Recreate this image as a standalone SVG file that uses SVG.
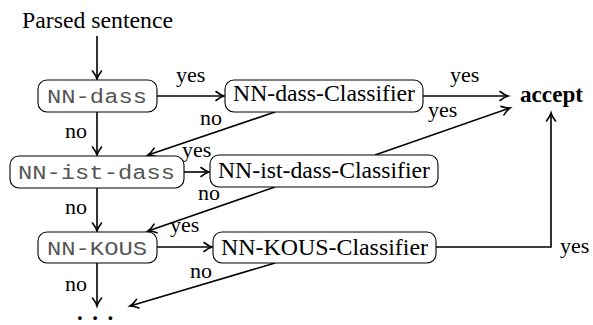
<svg xmlns="http://www.w3.org/2000/svg" width="593" height="325" viewBox="0 0 593 325">
<style>
.box{fill:#fff;stroke:#000;stroke-width:1.1}
.mono{font-family:"Liberation Mono","DejaVu Sans Mono",monospace;font-size:20px;fill:#555}
.serif{font-family:"Liberation Serif","Times New Roman",serif;font-size:23px;fill:#000}
.lbl{font-family:"Liberation Serif","Times New Roman",serif;font-size:22px;fill:#000}
.bold{font-weight:bold}
.edge{fill:none;stroke:#000;stroke-width:1.6;marker-end:url(#ah)}
</style>
<defs>
<marker id="ah" markerUnits="userSpaceOnUse" markerWidth="14" markerHeight="14" refX="11" refY="7" orient="auto" viewBox="0 0 14 14">
<path d="M3,2.5 Q7.5,6 11,7 Q7.5,8 3,11.5" fill="none" stroke="#000" stroke-width="1.6" stroke-linecap="round"/>
</marker>
</defs>

<text class="serif" x="22" y="28" textLength="151" lengthAdjust="spacingAndGlyphs">Parsed sentence</text>

<g id="edges">
<path class="edge" d="M97,36 L97,79"/>
<path class="edge" d="M157,96 L224,96"/>
<path class="edge" d="M97,112 L97,155"/>
<path class="edge" d="M275,112 L148,155"/>
<path class="edge" d="M423,96 L508,96"/>
<path class="edge" d="M375,155 L510,108"/>
<path class="edge" d="M184,172 L209,172"/>
<path class="edge" d="M97,188 L97,231"/>
<path class="edge" d="M275,187 L148,231"/>
<path class="edge" d="M157,247 L212,247"/>
<path class="edge" d="M436,247 L551,247 L551,113"/>
<path class="edge" d="M97,263 L97,306"/>
<path class="edge" d="M275,263 L130,306"/>
<text class="lbl" x="176" y="82">yes</text>
<text class="lbl" x="65" y="138">no</text>
<text class="lbl" x="200" y="125">no</text>
<text class="lbl" x="182" y="157">yes</text>
<text class="lbl" x="450" y="82">yes</text>
<text class="lbl" x="428" y="117">yes</text>
<text class="lbl" x="65" y="214">no</text>
<text class="lbl" x="198" y="200">no</text>
<text class="lbl" x="170" y="232">yes</text>
<text class="lbl" x="560" y="253">yes</text>
<text class="lbl" x="65" y="291">no</text>
<text class="lbl" x="190" y="278">no</text>
</g>

<g id="nn-dass">
<rect class="box" x="38" y="80" width="119" height="32" rx="9"/>
<text class="mono" x="47" y="103" textLength="100" lengthAdjust="spacingAndGlyphs">NN-dass</text>
</g>
<g id="nn-dass-classifier">
<rect class="box" x="225" y="80" width="198" height="32" rx="9"/>
<text class="serif" x="233" y="101" textLength="182" lengthAdjust="spacingAndGlyphs">NN-dass-Classifier</text>
</g>
<g id="nn-ist-dass">
<rect class="box" x="10" y="156" width="174" height="32" rx="9"/>
<text class="mono" x="18" y="179" textLength="157" lengthAdjust="spacingAndGlyphs">NN-ist-dass</text>
</g>
<g id="nn-ist-dass-classifier">
<rect class="box" x="210" y="155" width="228" height="32" rx="9"/>
<text class="serif" x="218" y="178" textLength="212" lengthAdjust="spacingAndGlyphs">NN-ist-dass-Classifier</text>
</g>
<g id="nn-kous">
<rect class="box" x="38" y="232" width="119" height="31" rx="9"/>
<text class="mono" x="47" y="255" textLength="100" lengthAdjust="spacingAndGlyphs">NN-KOUS</text>
</g>
<g id="nn-kous-classifier">
<rect class="box" x="213" y="232" width="223" height="31" rx="9"/>
<text class="serif" x="221" y="255" textLength="207" lengthAdjust="spacingAndGlyphs">NN-KOUS-Classifier</text>
</g>
<g id="accept">
<text class="serif bold" x="520" y="102" textLength="63" lengthAdjust="spacingAndGlyphs">accept</text>
</g>
<g id="dots">
<text class="serif bold" x="77" y="320" font-size="22" letter-spacing="9.5">...</text>
</g>
</svg>
